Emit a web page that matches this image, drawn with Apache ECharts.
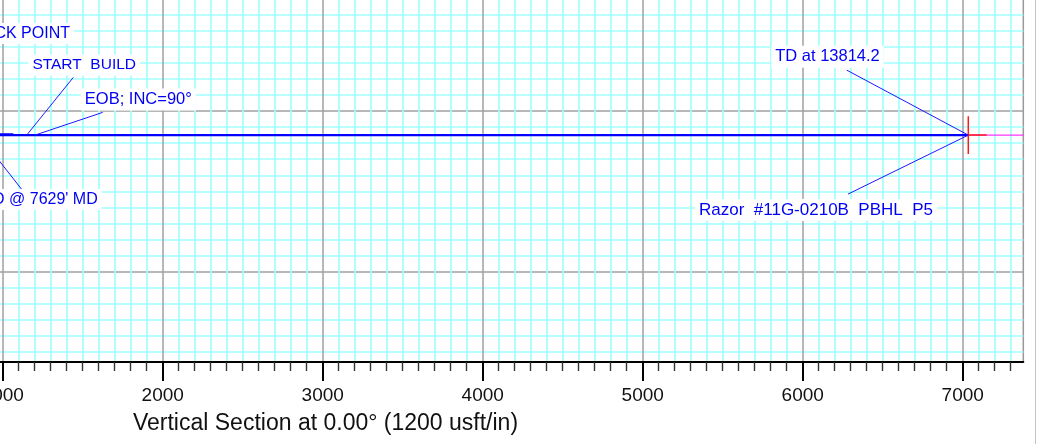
<!DOCTYPE html>
<html>
<head>
<meta charset="utf-8">
<script src="https://cdn.jsdelivr.net/npm/echarts@6/dist/echarts.min.js"></script>
<style>
  html, body { margin: 0; padding: 0; background: #ffffff; }
  #chart { width: 1041px; height: 444px; }
</style>
</head>
<body>
<div id="chart"></div>
<script>
// ---------------- DATA ----------------
const xTickValues = [0, 1000, 2000, 3000, 4000, 5000, 6000, 7000];
const axisTitle = 'Vertical Section at 0.00° (1200 usft/in)';

// Well path (vertical section, TVD)
const pathVS  = [700, 1150, 1202, 7035];
const pathTVD = [7150, 7150, 7150, 7150];

// Short overlapping tie-in segment at the left
const tieVS  = [700, 1066];
const tieTVD = [7144, 7144];

// Target (plan) line extending past TD
const targetVS  = [700, 7379];
const targetTVD = [7150, 7150];

// TD / target cross
const crossVertVS  = [7035, 7035];
const crossVertTVD = [7033, 7267];
const crossHorzVS  = [7035, 7150];
const crossHorzTVD = [7150, 7150];

// Annotations: text and the well-path point each one refers to
const annoText = ['KICK POINT', 'START  BUILD', 'EOB; INC=90°', "PILOT TD @ 7629' MD", 'TD at 13814.2', 'Razor  #11G-0210B  PBHL  P5'];
const annoVS   = [700, 1150, 1202, 852, 7035, 7035];
const annoTVD  = [7150, 7150, 7150, 7150, 7150, 7150];

// ---------------- LAYOUT (pixels) ----------------
const X1000PX = 2.7, PX_PER_X = 0.16;      // x pixel of VS 1000, px per unit
const Y7000PX = 111, PX_PER_Y = 0.1607;    // y pixel of TVD 7000, px per unit
const PLOT_RIGHT_PX = 1023.3, PLOT_BOTTOM_PX = 362;
const X_MIN = 0, Y_MIN = 6000;
const gridLeft = X1000PX - (1000 - X_MIN) * PX_PER_X;
const gridTop = Y7000PX - (7000 - Y_MIN) * PX_PER_Y;
const xMax = 1000 + (PLOT_RIGHT_PX - X1000PX) / PX_PER_X;
const yMax = 7000 + (PLOT_BOTTOM_PX - Y7000PX) / PX_PER_Y;

// leader end offset, label anchor offset, align, font size
const annoLayout = [
  { lx: 15,   ly: -90,  tx: 119.3,  ty: -101.7, align: 'right',  fs: 16 },
  { lx: 46.6, ly: -57.7, tx: 57.5,  ty: -70,    align: 'center', fs: 15.5 },
  { lx: 67.7, ly: -22.7, tx: 103.3, ty: -35.7,  align: 'center', fs: 16.5 },
  { lx: 42.7, ly: 54.3,  tx: 122.7, ty: 64.3,   align: 'right',  fs: 16 },
  { lx: -121.6, ly: -65, tx: -140.8, ty: -78.3, align: 'center', fs: 16.5 },
  { lx: -120.3, ly: 59,  tx: -152.3, ty: 75,    align: 'center', fs: 17 }
];

const FONT = '"Liberation Sans", Arial, Helvetica, sans-serif';
const BLUE = '#0000ff';
const TEXT_BLUE = '#0000f5';

function pairs(a, b) { return a.map((v, i) => [v, b[i]]); }

const chart = echarts.init(document.getElementById('chart'), null, { renderer: 'canvas' });

const option = {
  animation: false,
  backgroundColor: '#ffffff',
  grid: {
    left: gridLeft, top: gridTop, right: 1041 - PLOT_RIGHT_PX, bottom: 444 - PLOT_BOTTOM_PX,
    containLabel: false, outerBoundsMode: 'none',
    show: true, borderColor: '#9a9a9a', borderWidth: 1.5, backgroundColor: 'transparent'
  },
  xAxis: {
    type: 'value', min: X_MIN, max: xMax, interval: 1000,
    axisLine: { show: true, onZero: false, lineStyle: { color: '#000', width: 2 } },
    axisTick: { show: true, length: 19, customValues: xTickValues, lineStyle: { color: '#000', width: 2 } },
    minorTick: { show: true, splitNumber: 10, length: 9, lineStyle: { color: '#333', width: 1.4 } },
    axisLabel: {
      show: true, customValues: xTickValues, margin: 24, fontSize: 19, color: '#111', fontFamily: FONT,
      hideOverlap: false,
      formatter: v => (v % 1000 === 0 ? String(v) : '')
    },
    splitLine: { show: true, lineStyle: { color: '#a0a0a0', width: 1.5 } },
    minorSplitLine: { show: true, lineStyle: { color: '#a0ffff', width: 1.7 } }
  },
  yAxis: {
    type: 'value', inverse: true, min: Y_MIN, max: yMax, interval: 1000,
    axisLine: { show: false }, axisTick: { show: false }, axisLabel: { show: false },
    minorTick: { show: false, splitNumber: 10 },
    splitLine: { show: true, lineStyle: { color: '#a0a0a0', width: 1.5 } },
    minorSplitLine: { show: true, lineStyle: { color: '#a0ffff', width: 1.7 } }
  },
  graphic: [
    { type: 'line', shape: { x1: 1035.5, y1: 0, x2: 1035.5, y2: 444 }, style: { stroke: '#c4c4c4', lineWidth: 1 }, silent: true },
    { type: 'text', x: 325.5, y: 424, style: { text: axisTitle, font: '23px ' + FONT, fill: '#111', align: 'center', verticalAlign: 'middle' } }
  ],
  series: [
    { type: 'line', data: pairs(targetVS, targetTVD), showSymbol: false, lineStyle: { color: '#ff00ff', width: 1 }, z: 2 },
    { type: 'line', data: pairs(tieVS, tieTVD), showSymbol: false, lineStyle: { color: BLUE, width: 2 }, z: 3 },
    { type: 'line', data: pairs(pathVS, pathTVD), showSymbol: false, lineStyle: { color: BLUE, width: 2.4 }, z: 3 },
    { type: 'line', data: pairs(crossVertVS, crossVertTVD), showSymbol: false, lineStyle: { color: '#ff1a1a', width: 1.5 }, z: 4 },
    { type: 'line', data: pairs(crossHorzVS, crossHorzTVD), showSymbol: false, lineStyle: { color: '#ff1a1a', width: 1.5 }, z: 4 },
    {
      type: 'custom', z: 5, clip: false,
      data: annoText.map((t, i) => [annoVS[i], annoTVD[i], i]),
      renderItem: function (params, api) {
        const i = api.value(2);
        const p = api.coord([api.value(0), api.value(1)]);
        const L = annoLayout[i];
        return {
          type: 'group',
          children: [
            { type: 'line', shape: { x1: p[0], y1: p[1], x2: p[0] + L.lx, y2: p[1] + L.ly },
              style: { stroke: '#1a1aff', lineWidth: 1 } },
            { type: 'text', x: p[0] + L.tx, y: p[1] + L.ty,
              style: { text: annoText[i], font: L.fs + 'px ' + FONT, fill: TEXT_BLUE,
                       align: L.align, verticalAlign: 'middle',
                       backgroundColor: '#ffffff', padding: [3, 4, 2, 4] } }
          ]
        };
      }
    }
  ]
};
chart.setOption(option);
</script>
</body>
</html>
